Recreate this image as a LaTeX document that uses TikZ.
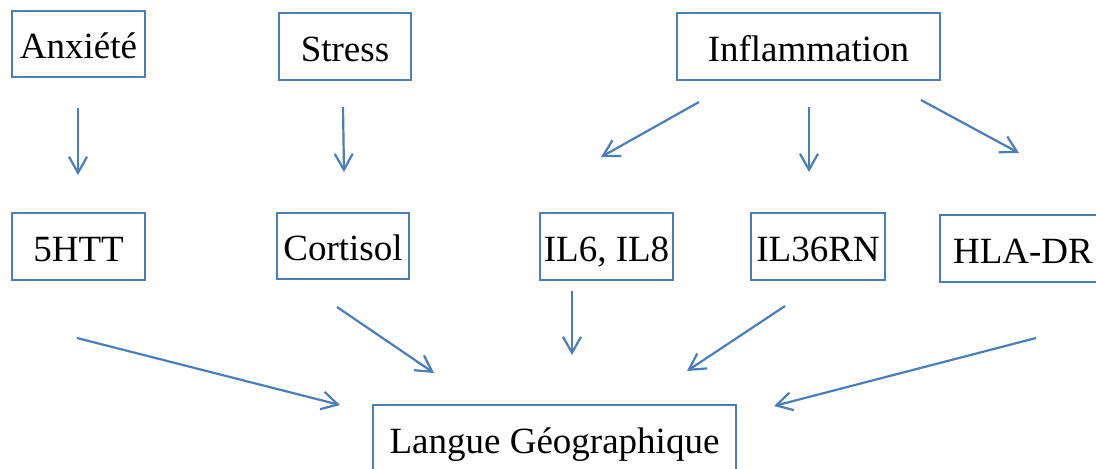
\documentclass[tikz,border=0pt]{standalone}
\usepackage{fontspec}
\setmainfont{Liberation Serif}
\usetikzlibrary{arrows.meta}
\definecolor{boxblue}{RGB}{74,126,187}
\tikzset{
  box/.style={draw=boxblue, line width=1.1pt, rectangle, inner sep=0pt,
    text height=16.5pt, text depth=2pt, font=\fontsize{18.5}{22}\selectfont},
  arr/.style={draw=boxblue, line width=1.1pt, -{Straight Barb[length=8pt,width=9pt]}}
}
\begin{document}
\begin{tikzpicture}[x=0.5pt, y=-0.5pt]
\useasboundingbox (0,0) rectangle (1096,468);
\clip (0,0) rectangle (1096,468);
\node (anx)[box, minimum width=66.5pt, minimum height=33pt] at (78.5,44) {Anxiété};
\node (stress)[box, minimum width=66pt, minimum height=33.5pt] at (345,46.5) {Stress};
\node (infl)[box, minimum width=131.5pt, minimum height=33.5pt] at (808.5,46.5) {Inflammation};
\node (htt)[box, minimum width=66.5pt, minimum height=33.5pt] at (78.5,246.5) {5HTT};
\node (cort)[box, minimum width=66pt, minimum height=33pt] at (343,246) {Cortisol};
\node (il6)[box, minimum width=66.5pt, minimum height=33.5pt] at (606.5,246.5) {IL6, IL8};
\node (il36)[box, minimum width=67pt, minimum height=33.5pt] at (818,246.5) {IL36RN};
\node (hla)[box, minimum width=83pt, minimum height=33.5pt] at (1023,248.5) {HLA-DR};
\node (langue)[box, minimum width=181.5pt, minimum height=33.5pt] at (554.5,438.5) {Langue Géographique};
\coordinate (anx1) at (78,108);
\coordinate (anx2) at (78,175);
\coordinate (stress1) at (343,107);
\coordinate (stress2) at (344,172);
\coordinate (infl1) at (699,102);
\coordinate (infl2) at (601,157);
\coordinate (infl3) at (809,107);
\coordinate (infl4) at (809,172);
\coordinate (infl5) at (921,100);
\coordinate (infl6) at (1019,153);
\coordinate (htt1) at (77,338);
\coordinate (htt2) at (340,405);
\coordinate (cort1) at (337,307);
\coordinate (cort2) at (434,373);
\coordinate (il61) at (572,291);
\coordinate (il62) at (572,355);
\coordinate (il361) at (785,306);
\coordinate (il362) at (687,371);
\coordinate (hla1) at (1036,338);
\coordinate (hla2) at (774,406);
\draw[arr] (anx1) -- (anx2);
\draw[arr] (stress1) -- (stress2);
\draw[arr] (infl1) -- (infl2);
\draw[arr] (infl3) -- (infl4);
\draw[arr] (infl5) -- (infl6);
\draw[arr] (htt1) -- (htt2);
\draw[arr] (cort1) -- (cort2);
\draw[arr] (il61) -- (il62);
\draw[arr] (il361) -- (il362);
\draw[arr] (hla1) -- (hla2);
\end{tikzpicture}
\end{document}
